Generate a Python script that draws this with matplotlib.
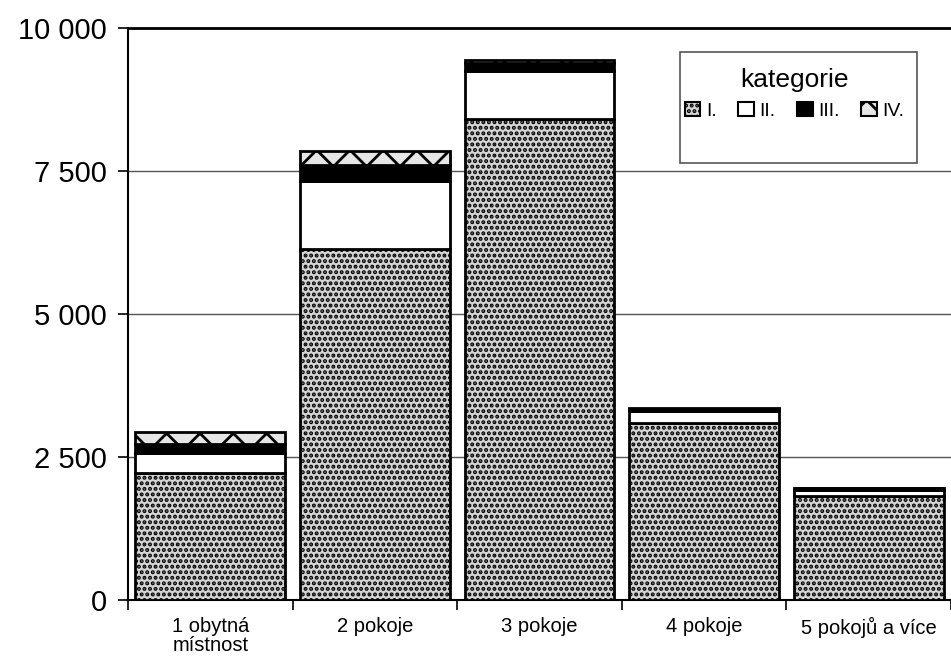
import numpy as np
import matplotlib.pyplot as plt
from matplotlib.patches import Rectangle

plt.rcParams['font.family'] = ['Liberation Sans', 'DejaVu Sans']
plt.rcParams['hatch.linewidth'] = 2.0

categories = ['1 obytná\nmístnost', '2 pokoje', '3 pokoje', '4 pokoje', '5 pokojů a více']
cat_I = [2220, 6140, 8410, 3095, 1820]
cat_II = [350, 1185, 840, 210, 110]
cat_III = [160, 280, 130, 40, 25]
cat_IV = [210, 245, 60, 10, 5]
series_names = ['I.', 'II.', 'III.', 'IV.']
yticks = [0, 2500, 5000, 7500, 10000]

fig = plt.figure(figsize=(9.51, 6.64), dpi=100)
ax = fig.add_axes([128 / 951, 64 / 664, 823 / 951, 572 / 664])

x = np.arange(len(categories))
w = 0.91
bottom = np.zeros(len(categories))
styles = [
    dict(facecolor='#d4d4d4', hatch='...'),
    dict(facecolor='white', hatch=None),
    dict(facecolor='black', hatch=None),
    dict(facecolor='#e6e6e6', hatch='x'),
]
handles = []
for vals, st, name in zip([cat_I, cat_II, cat_III, cat_IV], styles, series_names):
    b = ax.bar(x, vals, w, bottom=bottom, edgecolor='black', linewidth=2,
               label=name, zorder=3, **st)
    handles.append(b)
    bottom += np.array(vals)

ax.set_xlim(-0.5, len(categories) - 0.5)
ax.set_ylim(0, 10000)
ax.set_yticks(yticks)
ax.set_yticklabels([f'{v:,}'.replace(',', ' ') for v in yticks], fontsize=21)
ax.set_xticks(x)
ax.set_xticklabels(categories, fontsize=14.5, linespacing=1.0)
ax.set_xticks(np.arange(len(categories) + 1) - 0.5, minor=True)
ax.tick_params(axis='x', which='major', length=0, pad=12)
ax.tick_params(axis='x', which='minor', length=7, width=1.2, direction='out')
ax.tick_params(axis='y', length=7, width=1.2, direction='out', pad=8)

ax.grid(axis='y', color='#555555', linewidth=1, zorder=0)
ax.spines['right'].set_visible(False)
ax.spines['top'].set_linewidth(2)
ax.spines['left'].set_linewidth(1.5)
ax.spines['bottom'].set_linewidth(1.5)

# legend frame
ax.add_patch(Rectangle((0.671, 0.764), 0.288, 0.194, transform=ax.transAxes,
                       facecolor='white', edgecolor='#555555', linewidth=1.2, zorder=4))
leg = ax.legend(handles=handles, title='kategorie', ncol=4, frameon=False,
                loc='center', bbox_to_anchor=(0.81, 0.885), fontsize=14,
                title_fontsize=19, handlelength=0.8, handleheight=0.8,
                handletextpad=0.3, columnspacing=1.1, borderpad=0)
leg.set_zorder(5)
for h in leg.legend_handles:
    h.set_linewidth(1.5)

fig.savefig('out.png', dpi=100)
